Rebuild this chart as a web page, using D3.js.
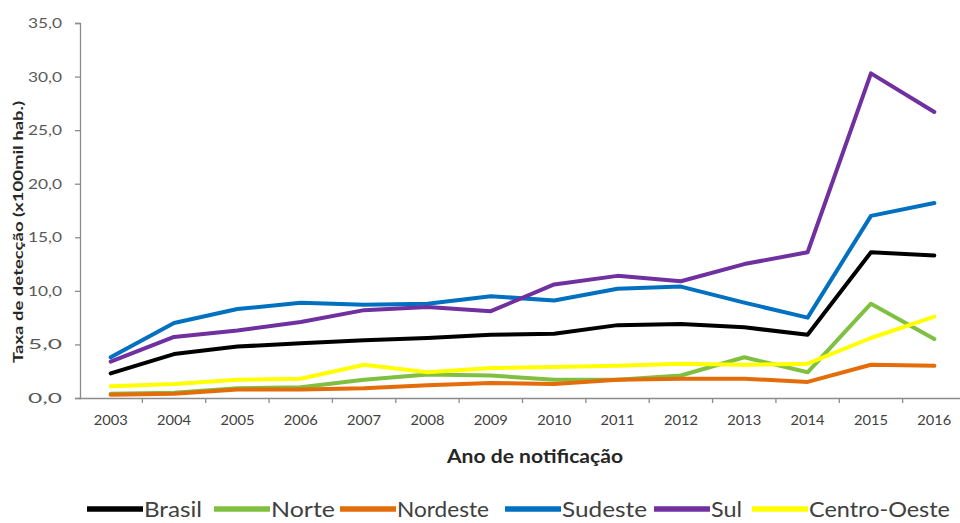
<!DOCTYPE html>
<html><head><meta charset="utf-8">
<script src="https://cdn.jsdelivr.net/npm/d3@7"></script>
<style>body{margin:0;background:#fff;}svg{display:block;}</style>
</head><body><svg id="c" width="960" height="523"></svg>
<script>
const years = ["2003","2004","2005","2006","2007","2008","2009","2010","2011","2012","2013","2014","2015","2016"];
const brasil = [2.3,4.1,4.8,5.1,5.4,5.6,5.9,6.0,6.8,6.9,6.6,5.9,13.6,13.3];
const norte = [0.4,0.5,0.9,1.0,1.7,2.2,2.1,1.7,1.7,2.1,3.8,2.4,8.8,5.5];
const nordeste = [0.3,0.4,0.8,0.8,0.9,1.2,1.4,1.3,1.7,1.8,1.8,1.5,3.1,3.0];
const sudeste = [3.8,7.0,8.3,8.9,8.7,8.8,9.5,9.1,10.2,10.4,8.9,7.5,17.0,18.2];
const sul = [3.4,5.7,6.3,7.1,8.2,8.5,8.1,10.6,11.4,10.9,12.5,13.6,30.3,26.7];
const centroOeste = [1.1,1.3,1.7,1.8,3.1,2.4,2.8,2.9,3.0,3.2,3.1,3.2,5.6,7.6];
const seriesNames = ["Brasil","Norte","Nordeste","Sudeste","Sul","Centro-Oeste"];
const yTicks = [0,5,10,15,20,25,30,35];

const seriesData = [brasil,norte,nordeste,sudeste,sul,centroOeste];
const colors = ["#000000","#7fc041","#e46c0a","#0070c0","#7030a0","#ffff00"];

const svg = d3.select("#c");
const x = d3.scaleBand().domain(years).range([79,966]);
const y = d3.scaleLinear().domain([0,35]).range([398,23]);
const fmt = v => d3.format(".1f")(v).replace(".",",");

// y axis
const ya = svg.append("g").attr("transform","translate(80,0)")
  .call(d3.axisLeft(y).tickValues(yTicks).tickFormat(fmt).tickSize(5).tickPadding(13));
ya.select(".domain").attr("stroke","#8c8c8c").attr("stroke-width",1.3);
ya.selectAll(".tick line").attr("stroke","#8c8c8c").attr("stroke-width",1.3);
ya.selectAll("text").attr("fill","#595959").style("font-family","Lato, 'Open Sans', sans-serif").style("font-size","14px")
  .attr("textLength",34).attr("lengthAdjust","spacingAndGlyphs");

// x axis
const xa = svg.append("g").attr("transform","translate(0,398)")
  .call(d3.axisBottom(x).tickSizeOuter(0).tickSize(0).tickPadding(18));
xa.select(".domain").attr("stroke","#8c8c8c").attr("stroke-width",1.3);
xa.selectAll("text").attr("fill","#404040").style("font-family","Lato, sans-serif").style("font-size","13px")
  .attr("textLength",34).attr("lengthAdjust","spacingAndGlyphs");
// tick marks between categories
xa.selectAll(".bt").data(years.slice(1)).enter().append("line")
  .attr("x1",d=>x(d)).attr("x2",d=>x(d)).attr("y1",0).attr("y2",5)
  .attr("stroke","#8c8c8c").attr("stroke-width",1.3);

// lines
const line = d3.line().x((d,i)=>x(years[i])+x.bandwidth()/2).y(d=>y(d));
seriesData.forEach((s,k)=>{
  svg.append("path").datum(s).attr("d",line).attr("fill","none")
    .attr("stroke",colors[k]).attr("stroke-width",4).attr("stroke-linejoin","round").attr("stroke-linecap","round");
});

// axis titles
svg.append("text").attr("transform","translate(23,232) rotate(-90)").attr("text-anchor","middle")
  .style("font-family","Lato, 'Open Sans', sans-serif").style("font-weight","bold").style("font-size","13px").attr("fill","#262626")
  .attr("textLength",262).attr("lengthAdjust","spacingAndGlyphs")
  .text("Taxa de detecção (x100mil hab.)");
svg.append("text").attr("x",535).attr("y",463).attr("text-anchor","middle")
  .style("font-family","Lato, 'Open Sans', sans-serif").style("font-weight","bold").style("font-size","19px").attr("fill","#262626")
  .attr("textLength",176).attr("lengthAdjust","spacingAndGlyphs")
  .text("Ano de notificação");

// legend
const legLineX = [87,214,340,505,654,752];
const legLineW = 56;
const legTextW = [58,64,92,85,31,141];
const lg = svg.append("g");
seriesNames.forEach((n,k)=>{
  lg.append("line").attr("x1",legLineX[k]).attr("x2",legLineX[k]+legLineW).attr("y1",509).attr("y2",509)
    .attr("stroke",colors[k]).attr("stroke-width",5.5);
  lg.append("text").attr("x",legLineX[k]+legLineW+1).attr("y",517)
    .style("font-family","Lato, 'Open Sans', sans-serif").style("font-size","22px").attr("fill","#404040")
    .attr("textLength",legTextW[k]).attr("lengthAdjust","spacingAndGlyphs").text(n);
});
</script></body></html>
